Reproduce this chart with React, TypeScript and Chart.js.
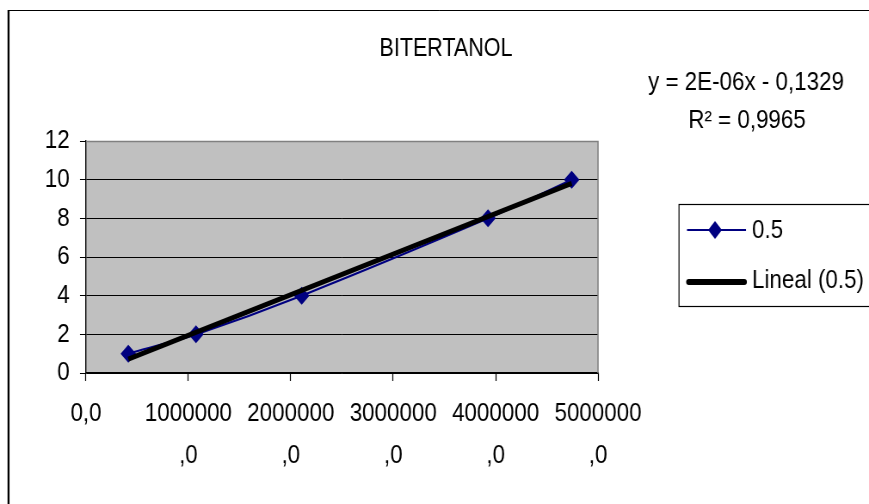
import React, { useEffect, useRef } from "react";
import { Chart, registerables } from "chart.js";

Chart.register(...registerables);

// ---- data ----
const TITLE = "BITERTANOL";
const SERIES_LABEL = "0.5";
const TREND_LABEL = "Lineal (0.5)";
const EQUATION_TEXT = "y = 2E-06x - 0,1329";
const R2_TEXT = "R² = 0,9965";
const xValues = [413000, 1074000, 2106000, 3926000, 4743000];
const yValues = [1, 2, 4, 8, 10];
const xTickValues = [0, 1000000, 2000000, 3000000, 4000000, 5000000];
const yTickValues = [0, 2, 4, 6, 8, 10, 12];

// least-squares trendline (Excel "Lineal")
function regression(xs: number[], ys: number[]) {
  const n = xs.length;
  const mx = xs.reduce((a, b) => a + b, 0) / n;
  const my = ys.reduce((a, b) => a + b, 0) / n;
  let sxy = 0, sxx = 0;
  for (let i = 0; i < n; i++) {
    sxy += (xs[i] - mx) * (ys[i] - my);
    sxx += (xs[i] - mx) * (xs[i] - mx);
  }
  const slope = sxy / sxx;
  return { slope, intercept: my - slope * mx };
}

const W = 1010; // logical canvas width (displayed condensed to 869px)
const H = 504;
const K = W / 869; // screen px -> logical px horizontally
const FONT = "'Liberation Sans', Arial, sans-serif";
const NAVY = "#000080";

function diamond(ctx: CanvasRenderingContext2D, x: number, y: number, rx: number, ry: number) {
  ctx.beginPath();
  ctx.moveTo(x, y - ry);
  ctx.lineTo(x + rx, y);
  ctx.lineTo(x, y + ry);
  ctx.lineTo(x - rx, y);
  ctx.closePath();
  ctx.fill();
}

export default function App() {
  const ref = useRef<HTMLCanvasElement | null>(null);

  useEffect(() => {
    if (!ref.current) return;
    const { slope, intercept } = regression(xValues, yValues);
    const minX = Math.min(...xValues);
    const maxX = Math.max(...xValues);

    const decor = {
      id: "decor",
      beforeDraw(chart: any) {
        const { ctx, chartArea } = chart;
        ctx.save();
        ctx.fillStyle = "#ffffff";
        ctx.fillRect(0, 0, chart.width, chart.height);
        ctx.fillStyle = "#c0c0c0";
        ctx.fillRect(chartArea.left, chartArea.top, chartArea.right - chartArea.left, chartArea.bottom - chartArea.top);
        // outer chart border (extends beyond the picture)
        ctx.strokeStyle = "#000";
        ctx.lineWidth = 1;
        ctx.beginPath();
        ctx.moveTo(8 * K, 10.5);
        ctx.lineTo(W + 10, 10.5);
        ctx.stroke();
        ctx.lineWidth = 2.3;
        ctx.beginPath();
        ctx.moveTo(8.5 * K, 10);
        ctx.lineTo(8.5 * K, H + 10);
        ctx.stroke();
        ctx.restore();
      },
      beforeDatasetsDraw(chart: any) {
        const { ctx, chartArea } = chart;
        ctx.save();
        ctx.strokeStyle = "#808080";
        ctx.lineWidth = 1.5;
        ctx.beginPath();
        ctx.moveTo(chartArea.left, chartArea.top + 0.5);
        ctx.lineTo(chartArea.right, chartArea.top + 0.5);
        ctx.lineTo(chartArea.right, chartArea.bottom);
        ctx.stroke();
        ctx.restore();
      },
      afterDraw(chart: any) {
        const { ctx } = chart;
        ctx.save();
        ctx.fillStyle = "#000";
        ctx.textBaseline = "alphabetic";
        // title
        ctx.font = `25px ${FONT}`;
        ctx.textAlign = "center";
        ctx.fillText(TITLE, 446 * K, 56);
        // trendline equation
        ctx.font = `26px ${FONT}`;
        ctx.fillText(EQUATION_TEXT, 746 * K, 90);
        ctx.fillText(R2_TEXT, 747 * K, 128);
        // legend box
        ctx.strokeStyle = "#000";
        ctx.lineWidth = 1.2;
        ctx.strokeRect(679 * K, 204.5, W, 102);
        // legend item 1
        const x0 = 687 * K, x1 = 746 * K;
        ctx.strokeStyle = NAVY;
        ctx.lineWidth = 2;
        ctx.beginPath();
        ctx.moveTo(x0, 230);
        ctx.lineTo(x1, 230);
        ctx.stroke();
        ctx.fillStyle = NAVY;
        diamond(ctx, 715 * K, 230, 8, 9);
        // legend item 2
        ctx.strokeStyle = "#000";
        ctx.lineWidth = 6;
        ctx.lineCap = "round";
        ctx.beginPath();
        ctx.moveTo(x0 + 2, 282);
        ctx.lineTo(x1 - 2, 282);
        ctx.stroke();
        ctx.fillStyle = "#000";
        ctx.textAlign = "left";
        ctx.textBaseline = "middle";
        ctx.fillText(SERIES_LABEL, 752 * K, 231);
        ctx.fillText(TREND_LABEL, 752 * K, 281);
        ctx.restore();
      },
    };

    const chart = new Chart(ref.current, {
      type: "scatter",
      data: {
        datasets: [
          {
            label: TREND_LABEL,
            data: [
              { x: minX, y: slope * minX + intercept },
              { x: maxX, y: slope * maxX + intercept },
            ],
            showLine: true,
            borderColor: "#000",
            borderWidth: 5,
            pointRadius: 0,
            order: 0,
          },
          {
            label: SERIES_LABEL,
            data: xValues.map((x, i) => ({ x, y: yValues[i] })),
            showLine: true,
            tension: 0.3,
            borderColor: NAVY,
            borderWidth: 2.2,
            pointStyle: "rectRot",
            pointRadius: 9,
            pointBackgroundColor: NAVY,
            pointBorderColor: NAVY,
            pointBorderWidth: 0,
            order: 1,
          },
        ],
      },
      options: {
        responsive: false,
        animation: false,
        devicePixelRatio: 1,
        layout: { padding: { left: 0, top: 141, right: W - 598 * K, bottom: 0 } },
        plugins: { legend: { display: false }, tooltip: { enabled: false }, title: { display: false } },
        scales: {
          x: {
            type: "linear",
            min: 0,
            max: 5000000,
            afterBuildTicks: (scale: any) => {
              scale.ticks = xTickValues.map((v) => ({ value: v }));
            },
            afterFit: (scale: any) => {
              scale.height = H - 373;
            },
            grid: { drawOnChartArea: false, drawTicks: true, tickLength: 8, tickColor: "#000", tickWidth: 1.2 },
            border: { display: true, color: "#000", width: 1.2 },
            ticks: {
              autoSkip: false,
              maxRotation: 0,
              padding: 12,
              color: "#000",
              font: { size: 26, family: FONT, lineHeight: 1.6 },
              callback: (v: any) => (Number(v) === 0 ? "0,0" : [String(v), ",0"]),
            },
          },
          y: {
            min: 0,
            max: 12,
            afterBuildTicks: (scale: any) => {
              scale.ticks = yTickValues.map((v) => ({ value: v }));
            },
            afterFit: (scale: any) => {
              scale.width = 86 * K;
            },
            grid: {
              color: (c: any) => (c.tick && c.tick.value === 12 ? "#808080" : "#000"),
              lineWidth: 1,
              drawTicks: true,
              tickLength: 7,
              tickColor: "#000",
            },
            border: { display: true, color: "#000", width: 1.4 },
            ticks: {
              padding: 12,
              color: "#000",
              font: { size: 26, family: FONT },
              callback: (v: any) => String(v),
            },
          },
        },
      },
      plugins: [decor],
    } as any);

    return () => chart.destroy();
  }, []);

  return (
    <canvas
      ref={ref}
      width={W}
      height={H}
      style={{ position: "absolute", left: 0, top: 0, width: "869px", height: "504px", display: "block" }}
    />
  );
}
